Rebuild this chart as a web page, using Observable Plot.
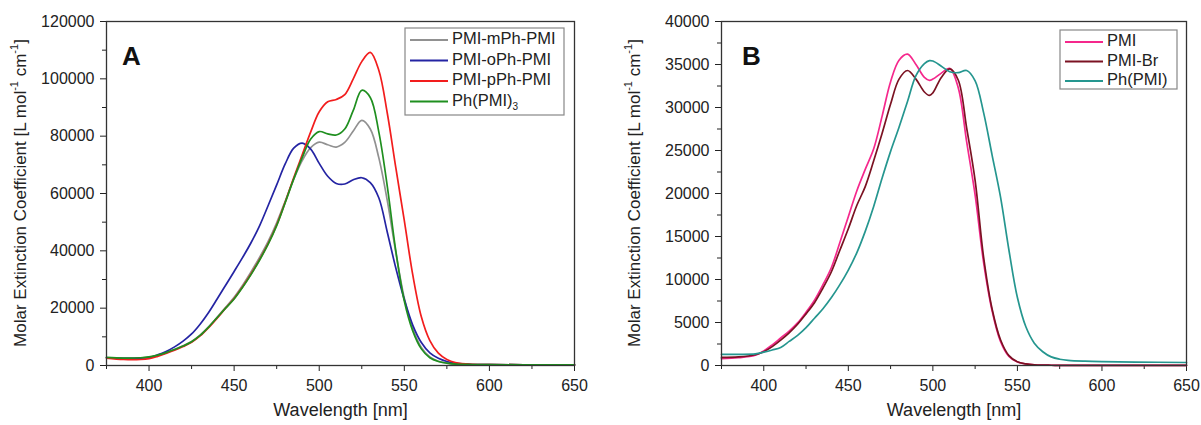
<!DOCTYPE html>
<html><head><meta charset="utf-8">
<script src="https://cdn.jsdelivr.net/npm/d3@7"></script>
<script src="https://cdn.jsdelivr.net/npm/@observablehq/plot@0.6"></script>
<style>
body{margin:0;background:#fff;}
#wrap{display:flex;width:1201px;height:425px;overflow:hidden;}
svg{font-family:"Liberation Sans",Arial,sans-serif;}
</style></head><body><div id="wrap"></div>
<script>
// ---------- Panel A data ----------
const wlA = [375,385,395,400,405,410,415,420,425,430,435,440,445,450,455,460,465,470,475,480,485,490,495,500,505,510,515,520,525,530,535,540,545,550,555,560,565,570,575,580,590,600,620,650];
const mPh = [2700,2500,2600,2900,3500,4400,5600,6900,8400,10600,13500,16800,20300,23800,28000,32700,37800,43300,49800,57300,65000,71500,76000,77900,77000,76200,77800,81800,85500,82500,72500,57500,39500,23500,12800,6300,3000,1500,850,500,350,300,250,250];
const oPh = [2700,2500,2600,2800,3700,4900,6500,8500,11000,14400,18500,23200,28000,32800,37700,42900,48800,55800,63000,70300,75800,77600,75500,70500,66000,63500,63300,64800,65500,63800,58500,46500,34000,23000,14000,8000,4400,2500,1400,800,350,300,250,200];
const pPh = [2600,2100,2100,2400,3200,4200,5300,6600,8100,10300,13200,16500,20000,23400,27500,32000,37000,42500,49000,57000,65500,73500,81500,88500,92000,92800,94500,100000,106000,109200,103000,88000,69000,50500,31500,17000,8700,4300,2100,1000,400,300,250,200];
const PhPMI3 = [2800,2600,2700,3000,3600,4500,5600,6800,8300,10500,13400,16700,20000,23200,27300,31800,36800,42300,48800,56800,65000,72500,79000,81600,80800,80400,82500,89000,96000,93500,81500,62500,40000,22500,12000,5800,2700,1400,800,450,350,300,250,250];
const namesA = ["PMI-mPh-PMI","PMI-oPh-PMI","PMI-pPh-PMI","Ph(PMI)3"];
const colorsA = ["#919191","#2424a3","#f21d1d","#1f8f1f"];
const valuesA = [mPh, oPh, pPh, PhPMI3];
const yTicksA = [0,20000,40000,60000,80000,100000,120000];

// ---------- Panel B data ----------
const wlB = [375,385,395,400,405,410,415,420,425,430,435,440,445,450,455,460,465,470,475,480,485,490,495,498,500,505,510,515,520,525,530,535,540,545,550,555,560,565,570,575,580,590,600,620,650];
const PMI = [800,900,1200,1700,2400,3200,4000,4950,6200,7600,9400,11400,14300,17300,20300,22800,25200,29000,33000,35500,36200,35000,33500,33150,33300,34000,34550,32300,26000,19800,12000,6400,2800,1050,400,180,80,40,30,20,20,20,20,20,20];
const PMIBr = [950,1000,1250,1600,2200,2950,3800,4800,6000,7300,9000,10900,13400,15900,18600,20800,23800,27000,30400,33300,34300,33300,31800,31400,31700,33500,34500,33200,27600,21500,12600,6600,3000,1150,430,190,80,40,30,20,20,20,20,20,20];
const PhPMI = [1300,1300,1350,1550,1800,2100,2800,3500,4400,5500,6600,7900,9400,11100,13100,15600,18500,21800,24900,27700,30700,33700,35100,35450,35400,34800,34150,34050,34300,33100,29400,24500,19600,13400,7900,4500,2600,1600,1000,730,600,500,450,400,350];
const namesB = ["PMI","PMI-Br","Ph(PMI)"];
const colorsB = ["#f5288c","#7b1222","#25968f"];
const valuesB = [PMI, PMIBr, PhPMI];
const yTicksB = [0,5000,10000,15000,20000,25000,30000,35000,40000];

const xTicks = [400,450,500,550,600,650];
const xMinor = [375,425,475,525,575,625];
const FONT = '"Liberation Sans", Arial, sans-serif';

function panel({wl, names, colors, values, yTicks, width, marginLeft, marginRight, letter, letterX, yLabelX, legend}) {
  const data = names.flatMap((n, k) => wl.map((w, i) => ({wl: w, v: values[k][i], name: n})));
  const yMax = yTicks[yTicks.length - 1];
  const step = yTicks[1] - yTicks[0];
  const yMinor = yTicks.slice(0, -1).map(t => t + step / 2);
  const svg = Plot.plot({
    width, height: 425, marginLeft, marginRight, marginTop: 21, marginBottom: 60,
    style: {fontFamily: FONT, fontSize: "16px", color: "#222", background: "white", overflow: "visible"},
    x: {domain: [375, 650]},
    y: {domain: [0, yMax]},
    color: {domain: names, range: colors},
    marks: [
      Plot.axisX({ticks: xTicks, tickSize: 6, tickPadding: 8, tickFormat: d => String(d), label: null, fontSize: 16, stroke: "#222"}),
      Plot.axisX({ticks: xMinor, tickSize: 4, tickFormat: () => "", label: null, stroke: "#222"}),
      Plot.axisY({ticks: yTicks, tickSize: 6, tickPadding: 6, tickFormat: d => String(d), label: null, fontSize: 16, stroke: "#222"}),
      Plot.axisY({ticks: yMinor, tickSize: 4, tickFormat: () => "", label: null, stroke: "#222"}),
      Plot.line(data, {x: "wl", y: "v", z: "name", stroke: "name", strokeWidth: 1.7, curve: "catmull-rom"}),
      Plot.frame({stroke: "#333", strokeWidth: 1.3}),
      Plot.text(["Wavelength [nm]"], {text: d => d, frameAnchor: "bottom", dy: 50, fontSize: 18, fill: "#222"})
    ]
  });
  const s = d3.select(svg);
  const H = 425, top = 21, bottom = H - 60;
  // y label
  const yl = s.append("text")
    .attr("transform", `translate(${yLabelX},${(top + bottom) / 2}) rotate(-90)`)
    .attr("text-anchor", "middle").attr("dominant-baseline", "middle")
    .attr("font-size", 17).attr("fill", "#222");
  yl.append("tspan").text("Molar Extinction Coefficient [L mol");
  yl.append("tspan").attr("font-size", 11).attr("dy", -7).text("-1");
  yl.append("tspan").attr("dy", 7).text(" cm");
  yl.append("tspan").attr("font-size", 11).attr("dy", -7).text("-1");
  yl.append("tspan").attr("dy", 7).text("]");
  // panel letter
  s.append("text").attr("x", letterX).attr("y", 65).attr("text-anchor", "start")
    .attr("font-size", 26).attr("font-weight", "bold").attr("fill", "#111").text(letter);
  // legend
  const L = legend;
  const g = s.append("g").attr("font-size", L.fontSize).attr("fill", "#222").attr("text-anchor", "start");
  g.append("rect").attr("x", L.x).attr("y", L.y).attr("width", L.w).attr("height", L.h)
    .attr("fill", "white").attr("stroke", "#888").attr("stroke-width", 1.2);
  names.forEach((n, i) => {
    const yy = L.y + L.first + i * L.gap;
    g.append("line").attr("x1", L.x + 5).attr("x2", L.x + 5 + L.lineLen).attr("y1", yy).attr("y2", yy)
      .attr("stroke", colors[i]).attr("stroke-width", 1.8);
    const t = g.append("text").attr("x", L.x + 9 + L.lineLen).attr("y", yy)
      .attr("text-anchor", "start").attr("dominant-baseline", "middle");
    const m = n.match(/^(.*\))(\d)$/);
    if (m) {
      t.append("tspan").text(m[1]);
      t.append("tspan").attr("font-size", 10).attr("dy", 5).text(m[2]);
    } else t.text(n);
  });
  return svg;
}

const wrap = document.getElementById("wrap");
wrap.appendChild(panel({
  wl: wlA, names: namesA, colors: colorsA, values: valuesA, yTicks: yTicksA,
  width: 600, marginLeft: 106, marginRight: 26, letter: "A", letterX: 122, yLabelX: 22,
  legend: {x: 405, y: 28, w: 159, h: 87, first: 12, gap: 20.5, lineLen: 38, fontSize: 16.5}
}));
wrap.appendChild(panel({
  wl: wlB, names: namesB, colors: colorsB, values: valuesB, yTicks: yTicksB,
  width: 601, marginLeft: 121, marginRight: 15, letter: "B", letterX: 142, yLabelX: 36,
  legend: {x: 460, y: 30, w: 117, h: 59, first: 12, gap: 19.5, lineLen: 38, fontSize: 16.5}
}));
</script></body></html>
